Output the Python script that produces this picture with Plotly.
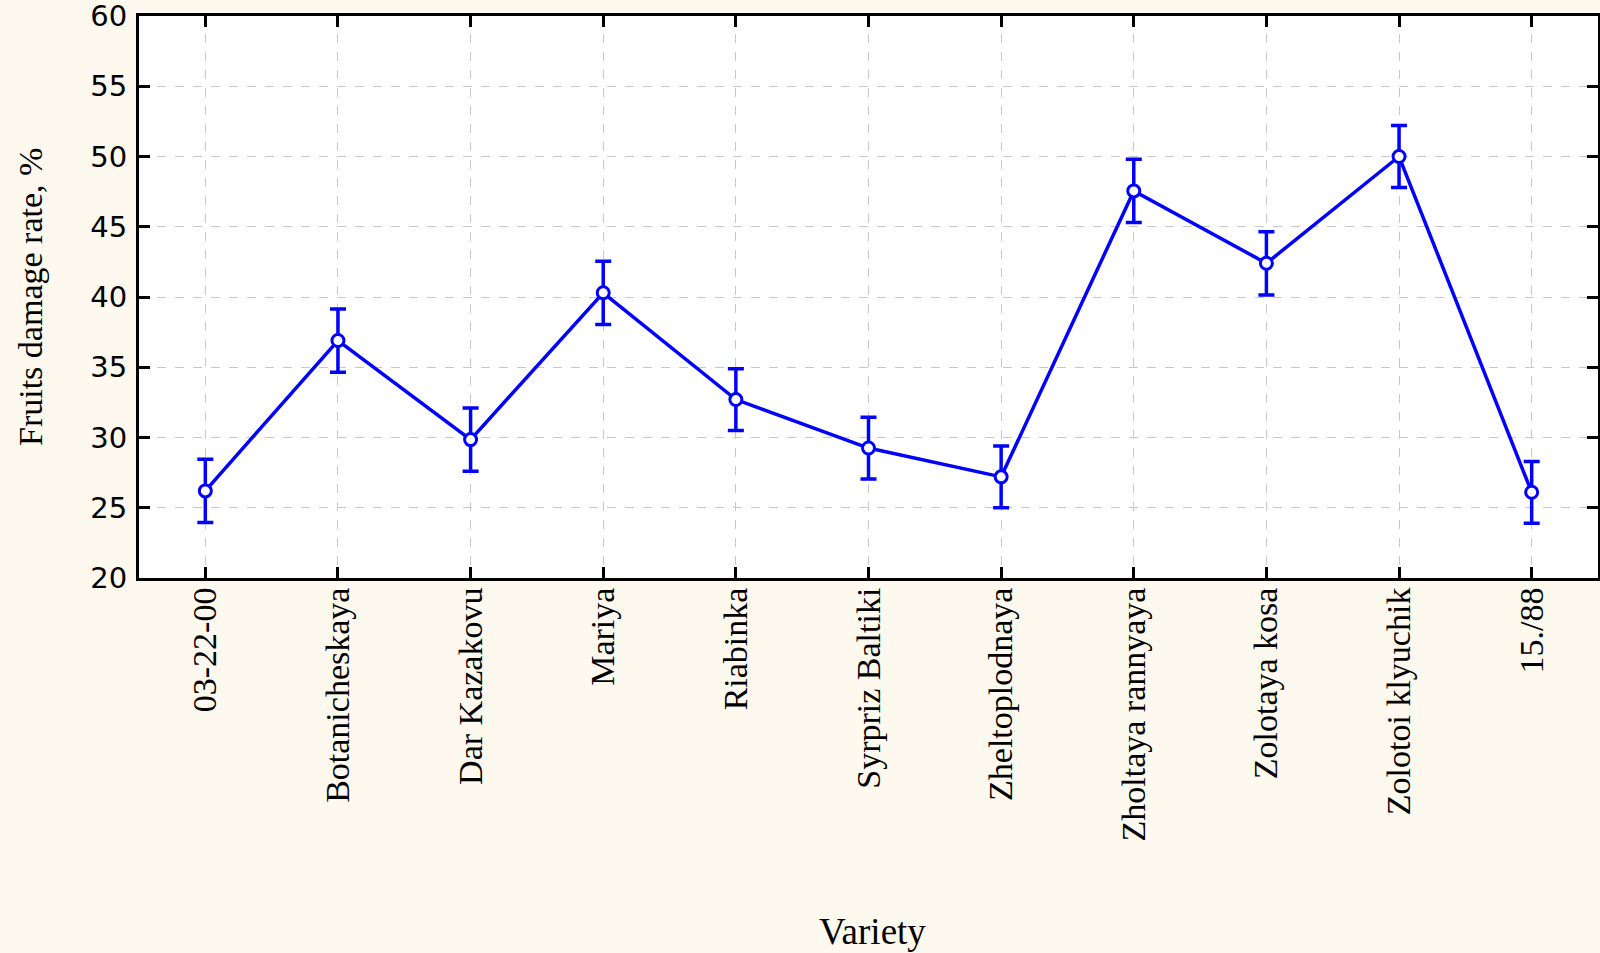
import plotly.graph_objects as go

varieties = ["03-22-00", "Botanicheskaya", "Dar Kazakovu", "Mariya", "Riabinka",
             "Syrpriz Baltiki", "Zheltoplodnaya", "Zholtaya rannyaya", "Zolotaya kosa",
             "Zolotoi klyuchik", "15./88"]
damage = [26.2, 36.9, 29.85, 40.3, 32.7, 29.25, 27.2, 47.55, 42.4, 50.0, 26.1]
err = [2.25, 2.25, 2.25, 2.25, 2.2, 2.2, 2.2, 2.25, 2.25, 2.2, 2.2]
y_ticks = [20, 25, 30, 35, 40, 45, 50, 55, 60]

W, H = 1600, 953
L, R, T = 139, 2, 16
B = H - 578

fig = go.Figure()
fig.add_trace(go.Scatter(
    x=list(range(len(varieties))), y=damage,
    mode="lines+markers",
    line=dict(color="#0000FF", width=3.5),
    marker=dict(symbol="circle", size=12, color="white",
                line=dict(color="#0000FF", width=3)),
    error_y=dict(type="data", array=err, visible=True, color="#0000FF",
                 thickness=3.5, width=8),
    showlegend=False,
))

fig.update_xaxes(
    range=[-0.5, len(varieties) - 0.5],
    tickmode="array", tickvals=list(range(len(varieties))), ticktext=varieties,
    tickangle=-90,
    tickfont=dict(family="Liberation Serif", size=34, color="black"),
    ticklabelstandoff=-7,
    ticks="inside", ticklen=11, tickwidth=3, tickcolor="black",
    showline=True, linecolor="black", linewidth=3, mirror="ticks",
    showgrid=True, gridcolor="#c8c8c8", gridwidth=1, griddash="dash",
    zeroline=False,
)
fig.update_yaxes(
    range=[20, 60],
    tickmode="array", tickvals=y_ticks, ticktext=[str(v) for v in y_ticks],
    tickfont=dict(family="DejaVu Sans", size=29, color="black"),
    ticklabeloverflow="allow", ticklabelstandoff=3,
    ticks="inside", ticklen=11, tickwidth=3, tickcolor="black",
    showline=True, linecolor="black", linewidth=3, mirror="ticks",
    showgrid=True, gridcolor="#c8c8c8", gridwidth=1, griddash="dash",
    zeroline=False,
)

plot_w = W - L - R
plot_h = H - T - B
fig.add_annotation(
    text="Fruits damage rate, %", xref="paper", yref="paper",
    x=(30 - L) / plot_w, y=0.5, xanchor="center", yanchor="middle",
    textangle=-90, showarrow=False,
    font=dict(family="Liberation Serif", size=34, color="black"),
)
fig.add_annotation(
    text="Variety", xref="paper", yref="paper",
    x=(872 - L) / plot_w, y=-(931 - (H - B)) / plot_h,
    xanchor="center", yanchor="middle", showarrow=False,
    font=dict(family="Liberation Serif", size=37, color="black"),
)

fig.update_layout(
    width=W, height=H,
    margin=dict(l=L, r=R, t=T, b=B, autoexpand=False),
    paper_bgcolor="#FEF9EE", plot_bgcolor="white",
)

fig.write_html(
    "out.html",
    config={"displayModeBar": False},
    post_script="document.body.style.margin='0';document.body.style.background='#FEF9EE';",
)
